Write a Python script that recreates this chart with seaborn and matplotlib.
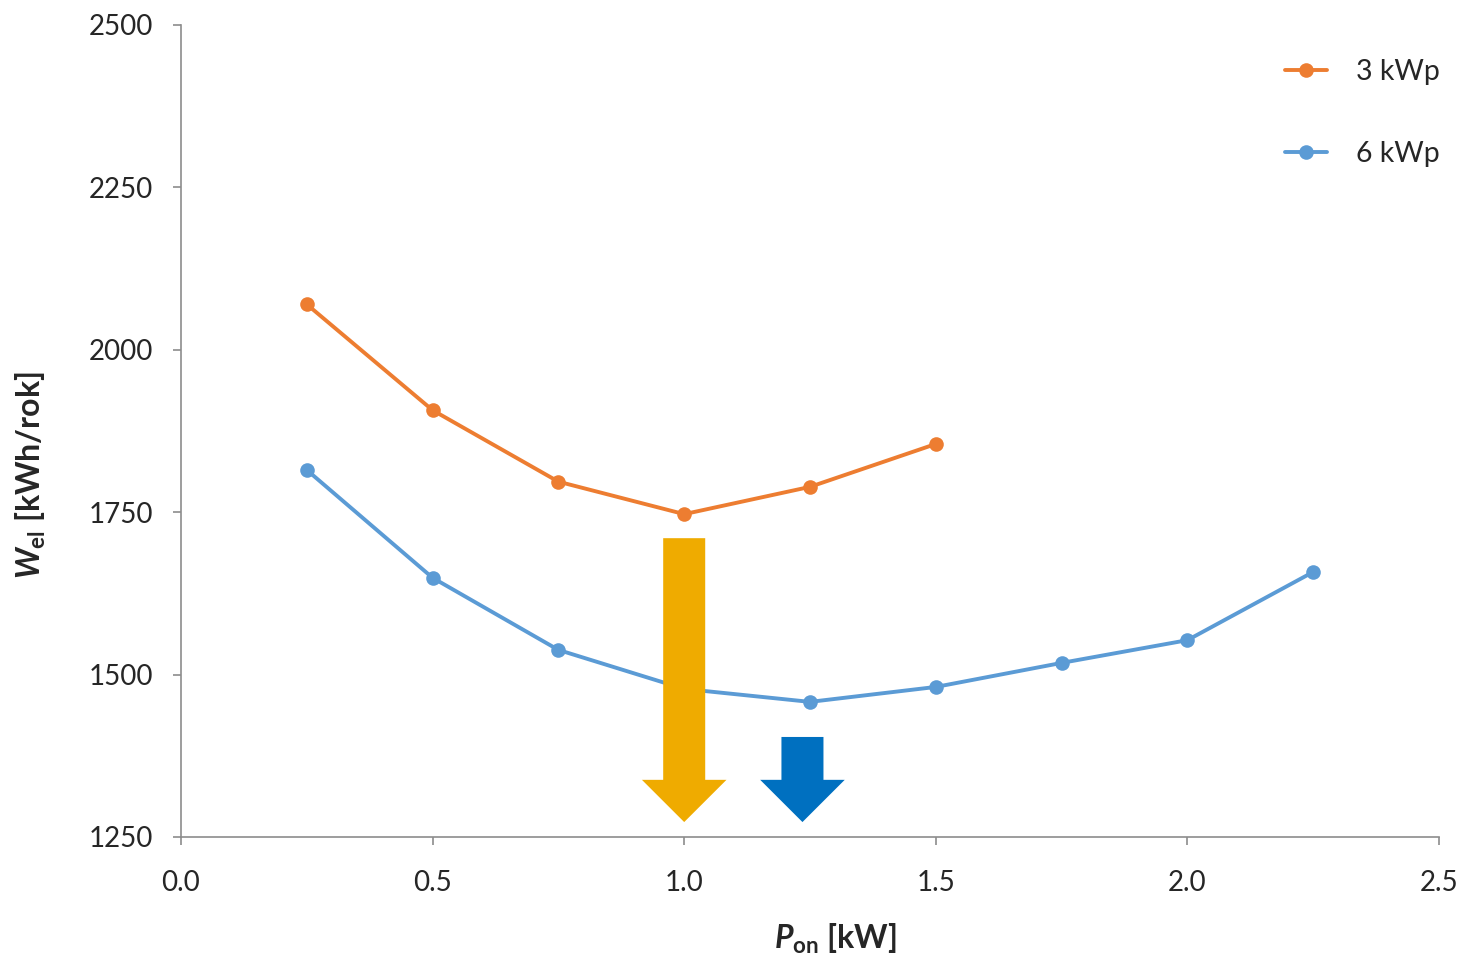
import matplotlib
matplotlib.use("Agg")
import matplotlib.pyplot as plt
import numpy as np
import pandas as pd
import seaborn as sns
from matplotlib.patches import FancyArrow

# Annual electricity demand vs. switch-on power threshold
p_on_3kwp = [0.25, 0.50, 0.75, 1.00, 1.25, 1.50]
w_el_3kwp = [2070, 1907, 1797, 1747, 1789, 1855]

p_on_6kwp = [0.25, 0.50, 0.75, 1.00, 1.25, 1.50, 1.75, 2.00, 2.25]
w_el_6kwp = [1815, 1649, 1538, 1478, 1458, 1481, 1518, 1553, 1658]

series_labels = ["3 kWp", "6 kWp"]
series_colors = ["#ED7D31", "#5B9BD5"]

# Optimum markers: x position, top and tip of each arrow
arrow_x = [1.00, 1.235]
arrow_top = [1710, 1404]
arrow_tip = [1273, 1273]
arrow_colors = ["#EFAB00", "#0070C0"]

x_ticks = [0.0, 0.5, 1.0, 1.5, 2.0, 2.5]
y_ticks = [1250, 1500, 1750, 2000, 2250, 2500]

sns.set_theme(style="white")
plt.rcParams["font.family"] = ["Lato", "DejaVu Sans"]
plt.rcParams["mathtext.fontset"] = "custom"
plt.rcParams["mathtext.rm"] = "Lato:bold"
plt.rcParams["mathtext.it"] = "Lato:bold:italic"
plt.rcParams["mathtext.bf"] = "Lato:bold"

df = pd.concat([
    pd.DataFrame({"P": p_on_3kwp, "W": w_el_3kwp, "series": series_labels[0]}),
    pd.DataFrame({"P": p_on_6kwp, "W": w_el_6kwp, "series": series_labels[1]}),
])

fig = plt.figure(figsize=(14.61, 9.61), dpi=100)
ax = fig.add_axes([181 / 1461, 1 - 837 / 961, (1439 - 181) / 1461, (837 - 25) / 961])

sns.lineplot(
    data=df, x="P", y="W", hue="series", hue_order=series_labels,
    palette=series_colors, marker="o", markersize=10.5, markeredgewidth=0,
    linewidth=2.8, ax=ax, sort=False,
)

for x, top, tip, c in zip(arrow_x, arrow_top, arrow_tip, arrow_colors):
    ax.add_patch(FancyArrow(
        x, top, 0, tip - top, width=0.0835, head_width=0.168,
        head_length=65, length_includes_head=True, color=c, lw=0, zorder=5,
    ))

ax.set_xlim(0, 2.5)
ax.set_ylim(1250, 2500)
ax.set_xticks(x_ticks)
ax.set_xticklabels([f"{v:.1f}" for v in x_ticks])
ax.set_yticks(y_ticks)
ax.set_yticklabels([str(v) for v in y_ticks])

for side in ["top", "right"]:
    ax.spines[side].set_visible(False)
for side in ["left", "bottom"]:
    ax.spines[side].set_color("#8C8C8C")
    ax.spines[side].set_linewidth(1.2)

ax.tick_params(axis="both", which="major", direction="out", length=6,
               width=1.2, color="#8C8C8C", labelsize=20, labelcolor="#262626",
               bottom=True, left=True)
ax.tick_params(axis="y", pad=14)
ax.tick_params(axis="x", pad=18)

ax.set_xlabel(r"$P_{\rm on}$ [kW]", fontsize=23, fontweight="bold", color="#262626")
ax.set_ylabel(r"$W_{\rm el}$ [kWh/rok]", fontsize=23, fontweight="bold", color="#262626")
ax.xaxis.set_label_coords(0.52, -0.104)
ax.yaxis.set_label_coords(-0.106, 0.446)

leg = ax.legend(
    loc="upper right", bbox_to_anchor=(1.0095, 0.972), frameon=False,
    fontsize=20.5, handlelength=1.5, handletextpad=1.0, labelspacing=1.97,
    borderaxespad=0,
)
for t in leg.get_texts():
    t.set_color("#262626")

fig.savefig("out.png", dpi=100, facecolor="white")
